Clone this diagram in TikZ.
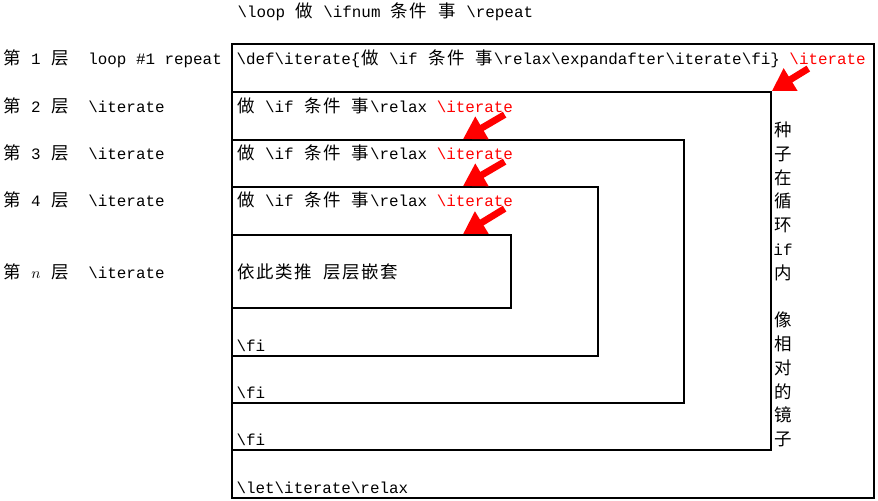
\documentclass[tikz,border=0pt]{standalone}
\usepackage{fontspec}
\setmonofont{Liberation Mono}
\newfontfamily\cjk[Scale=1.1]{Noto Sans CJK SC}
\usetikzlibrary{arrows.meta}
\newcommand\bs{\textbackslash}
\newcommand\zh[1]{\zhloop#1\relax}
\def\zhloop#1{\ifx\relax#1\else\makebox[1.2em]{\cjk #1}\expandafter\zhloop\fi}
\newcommand\rit{\textcolor{red}{\bs iterate}}
\begin{document}
\begin{tikzpicture}[
        x=1cm, y=1cm,
        thick,
        font=\ttfamily\fontsize{11.3pt}{16.9pt}\selectfont
    ]
    \tikzset{
        layer/.style = {rectangle, draw=black, line width=1.3pt, anchor=north west, inner sep=0pt},
        code/.style = {anchor=west, inner sep=0pt},
        seed/.style = {align=center, inner sep=0pt, font=\cjk\fontsize{11.3pt}{16.9pt}\selectfont},
        hint/.style = {-{Triangle[length=0.55cm,width=0.62cm]}, line width=0.17cm, red},
    }
    \useasboundingbox (0,0) rectangle (21.95,-12.5);
    \node[code] (title) at (5.925,-0.3) {\bs loop \zh{做} \bs ifnum \zh{条件} \zh{事} \bs repeat};
    %
    \node[layer, minimum width=16.05cm, minimum height=11.35cm] (l1) at (5.775,-1.075) {};
    \node[layer, minimum width=13.475cm, minimum height=8.95cm] (l2) at (5.775,-2.275) {};
    \node[layer, minimum width=11.3cm, minimum height=6.575cm] (l3) at (5.775,-3.475) {};
    \node[layer, minimum width=9.15cm, minimum height=4.225cm] (l4) at (5.775,-4.65) {};
    \node[layer, minimum width=6.975cm, minimum height=1.825cm] (l5) at (5.775,-5.85) {};
    %
    \node[code] (n1) at (0.05,-1.475) {\zh{第} 1 \zh{层}~~loop \#1 repeat};
    \node[code] (n2) at (0.05,-2.65) {\zh{第} 2 \zh{层}~~\bs iterate};
    \node[code] (n3) at (0.05,-3.825) {\zh{第} 3 \zh{层}~~\bs iterate};
    \node[code] (n4) at (0.05,-5.0) {\zh{第} 4 \zh{层}~~\bs iterate};
    \node[code] (nn) at (0.05,-6.8) {\zh{第} \makebox[0.6em]{$n$} \zh{层}~~\bs iterate};
    %
    \node[code] (r1) at (5.9,-1.475) {\bs def\bs iterate\{\zh{做} \bs if \zh{条件} \zh{事}\bs relax\bs expandafter\bs iterate\bs fi\} \rit};
    \node[code] (r2) at (5.9,-2.65) {\zh{做} \bs if \zh{条件} \zh{事}\bs relax \rit};
    \node[code] (r3) at (5.9,-3.825) {\zh{做} \bs if \zh{条件} \zh{事}\bs relax \rit};
    \node[code] (r4) at (5.9,-5.0) {\zh{做} \bs if \zh{条件} \zh{事}\bs relax \rit};
    \node[code] (r5) at (5.9,-6.8) {\zh{依此类推} \zh{层层嵌套}};
    %
    \node[code] (f1) at (5.9,-8.65) {\bs fi};
    \node[code] (f2) at (5.9,-9.825) {\bs fi};
    \node[code] (f3) at (5.9,-11.0) {\bs fi};
    \node[code] (f0) at (5.9,-12.2) {\bs let\bs iterate\bs relax};
    %
    \node[seed] (s) at (19.575,-7.1125) {种\\子\\在\\循\\环\\{\ttfamily if}\\内\\[16.9pt]像\\相\\对\\的\\镜\\子};
    %
    \draw[hint] ([xshift=-1.45cm]r1.south east) -- (l2.north east);
    \draw[hint] ([xshift=-0.225cm]r2.south east) -- ([xshift=5.8cm]l3.north west);
    \draw[hint] ([xshift=-0.225cm]r3.south east) -- ([xshift=5.8cm]l4.north west);
    \draw[hint] ([xshift=-0.225cm]r4.south east) -- ([xshift=5.8cm]l5.north west);
\end{tikzpicture}
\end{document}
